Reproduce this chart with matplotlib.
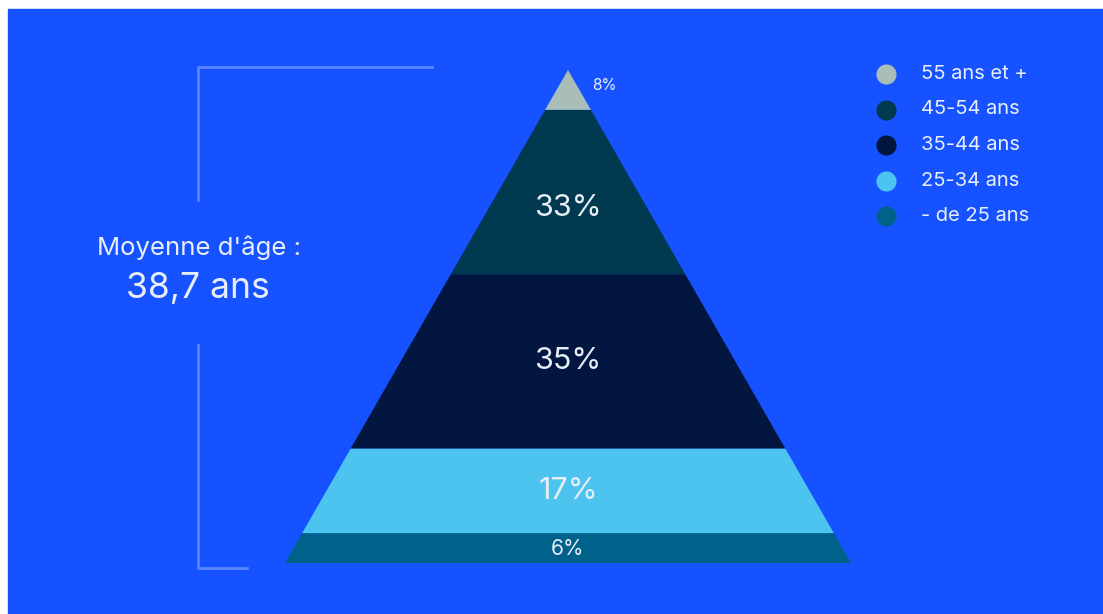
import matplotlib.pyplot as plt
from matplotlib.patches import Polygon, Rectangle

# age groups, from the base of the pyramid to the top
groups = ["- de 25 ans", "25-34 ans", "35-44 ans", "45-54 ans", "55 ans et +"]
shares = [6, 17, 35, 33, 8]
colors = ["#00628A", "#4DC3F0", "#02163F", "#013A50", "#A9BEB9"]
avg_label = "Moyenne d'âge :"
avg_value = "38,7 ans"

BG = "#1652FF"
LINE = "#5A86FF"
TXT = "#E8EEF8"

plt.rcParams['font.family'] = ['Inter', 'DejaVu Sans']

fig = plt.figure(figsize=(11.03, 6.14), dpi=100, facecolor="white")
ax = fig.add_axes([0, 0, 1, 1])
ax.set_xlim(0, 1103)
ax.set_ylim(614, 0)
ax.axis("off")
ax.add_patch(Rectangle((8, 9), 1103, 614, color=BG, zorder=0))

# pyramid geometry (pixels)
cx, apex_y, base_y, base_half = 568, 70, 563, 283
px_per = (base_y - apex_y) / sum(shares)
slope = base_half / (base_y - apex_y)

def half_w(y):
    return (y - apex_y) * slope

y0 = base_y
for i, (v, c) in enumerate(zip(shares, colors)):
    y1 = y0 - v * px_per
    pts = [(cx - half_w(y0), y0), (cx + half_w(y0), y0),
           (cx + half_w(y1), y1), (cx - half_w(y1), y1)]
    ax.add_patch(Polygon(pts, closed=True, color=c, lw=0, zorder=2))
    ym = (y0 + y1) / 2
    if i == len(shares) - 1:
        # top slice is too small, label sits beside it
        ax.text(cx + 36, y1 + 16, f"{v}%", color=TXT, fontsize=11, ha="center", va="center", zorder=3)
    elif i == 0:
        ax.text(cx, ym + 1, f"{v}%", color=TXT, fontsize=15, ha="center", va="center", zorder=3)
    else:
        off = 16 if i == len(shares) - 2 else 0
        ax.text(cx, ym + off, f"{v}%", color=TXT, fontsize=22, ha="center", va="center", zorder=3)
    y0 = y1

# bracket
ax.plot([432, 198, 198], [67, 67, 200], color=LINE, lw=2, zorder=1)
ax.plot([198, 198, 247], [345, 568, 568], color=LINE, lw=2, zorder=1)
ax.text(199, 248, avg_label, color=TXT, fontsize=18.5, ha="center", va="center")
ax.text(198, 288, avg_value, color=TXT, fontsize=25.5, ha="center", va="center")

# legend, top group first
for k, (g, c) in enumerate(zip(groups[::-1], colors[::-1])):
    y = 74 + k * 35.5
    ax.scatter([886], [y], s=210, color=c, zorder=3, lw=0)
    ax.text(921, y, g, color=TXT, fontsize=14.5, ha="left", va="center")

fig.savefig("out.png", dpi=100, facecolor="white")
